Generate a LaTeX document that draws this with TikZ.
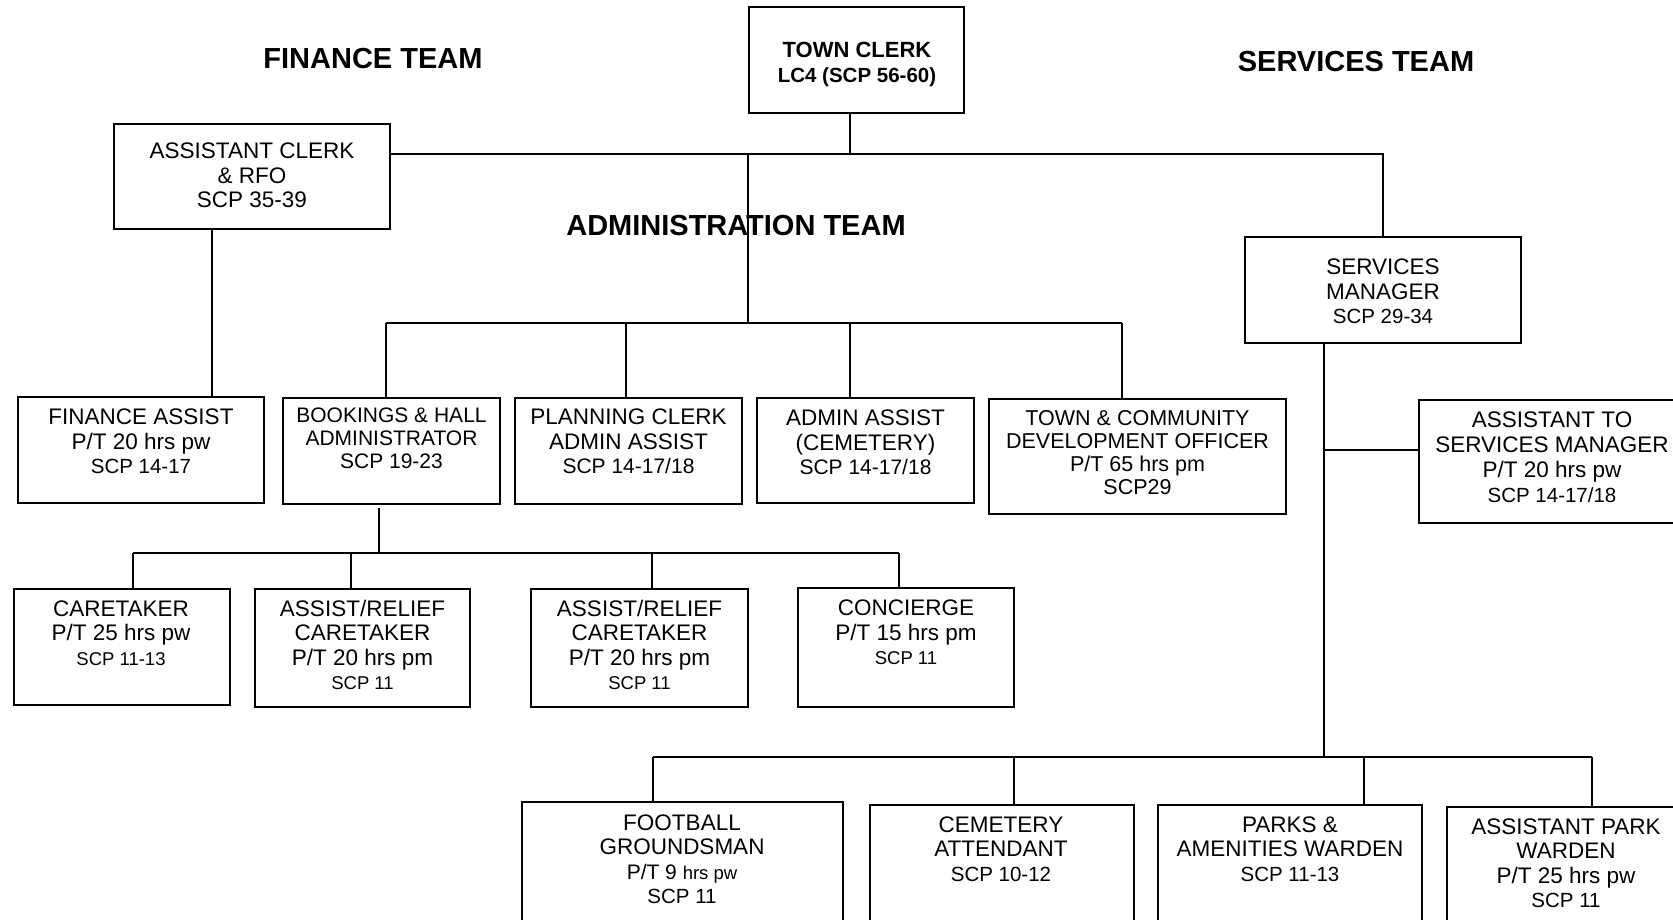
\documentclass[tikz,border=0pt]{standalone}
\usepackage{fontspec}
\setmainfont{Liberation Sans}
\newcommand\fa{\fontsize{22.5}{24.5}\selectfont}
\newcommand\fb{\fontsize{20.5}{24.5}\selectfont}
\newcommand\fc{\fontsize{18.5}{24.5}\selectfont}
\newcommand\fd{\fontsize{21}{23}\selectfont}
\begin{document}
\begin{tikzpicture}[x=1pt,y=-1pt,
  box/.style={draw, line width=2pt, inner sep=0pt},
  txt/.style={align=center, inner sep=0pt, font=\fa},
  team/.style={inner sep=0pt, font=\fontsize{29}{32}\selectfont\bfseries},
  conn/.style={line width=1.3pt}]
\useasboundingbox (0,0) rectangle (1673,920);
\clip (0,0) rectangle (1673,920);

% team labels
\node[team] (ft) at (373,59) {FINANCE TEAM};
\node[team] (st) at (1356,62) {SERVICES TEAM};

% boxes
\node[box, minimum width=215pt, minimum height=106pt] (tc) at (856.5,60) {};
\node[txt, font=\fontsize{22}{25}\selectfont\bfseries] (tct) at (857,64.5) {TOWN CLERK\\{\fontsize{20.5}{25}\selectfont LC4 (SCP 56-60)}};

\node[box, minimum width=276pt, minimum height=105pt] (ac) at (252,176.5) {};
\node[txt] (act) at (252,175.5) {ASSISTANT CLERK\\\& RFO\\SCP 35-39};

\node[box, minimum width=276pt, minimum height=106pt] (sm) at (1383,290) {};
\node[txt] (smt) at (1383,291.5) {SERVICES\\MANAGER\\{\fb SCP 29-34}};

\node[box, minimum width=246pt, minimum height=106pt] (fa) at (141,450) {};
\node[txt] (fat) at (141,441.5) {FINANCE ASSIST\\P/T 20 hrs pw\\{\fb SCP 14-17}};

\node[box, minimum width=217pt, minimum height=106pt] (bk) at (391.5,451) {};
\node[txt, font=\fd] (bkt) at (391.5,438) {BOOKINGS \& HALL\\ADMINISTRATOR\\SCP 19-23};

\node[box, minimum width=227pt, minimum height=106pt] (pc) at (628.5,451) {};
\node[txt] (pct) at (628.5,441.5) {PLANNING CLERK\\ADMIN ASSIST\\{\fd SCP 14-17/18}};

\node[box, minimum width=217pt, minimum height=105pt] (aa) at (865.5,450.5) {};
\node[txt] (aat) at (865.5,442.5) {ADMIN ASSIST\\(CEMETERY)\\{\fd SCP 14-17/18}};

\node[box, minimum width=297pt, minimum height=115pt] (tcd) at (1137.5,456.5) {};
\node[txt, font=\fontsize{21.5}{23}\selectfont] (tcdt) at (1137.5,452.5) {TOWN \& COMMUNITY\\DEVELOPMENT OFFICER\\P/T 65 hrs pm\\SCP29};

\node[box, minimum width=268pt, minimum height=123pt] (asm) at (1553,461.5) {};
\node[txt, font=\fontsize{22.5}{25}\selectfont] (asmt) at (1552,457.5) {ASSISTANT TO\\SERVICES MANAGER\\P/T 20 hrs pw\\{\fb SCP 14-17/18}};

\node[box, minimum width=216pt, minimum height=116pt] (ct) at (122,647) {};
\node[txt] (ctt) at (121,633) {CARETAKER\\P/T 25 hrs pw\\{\fc SCP 11-13}};

\node[box, minimum width=215pt, minimum height=118pt] (ar1) at (362.5,648) {};
\node[txt] (ar1t) at (362.5,645) {ASSIST/RELIEF\\CARETAKER\\P/T 20 hrs pm\\{\fc SCP 11}};

\node[box, minimum width=217pt, minimum height=118pt] (ar2) at (639.5,648) {};
\node[txt] (ar2t) at (639.5,645) {ASSIST/RELIEF\\CARETAKER\\P/T 20 hrs pm\\{\fc SCP 11}};

\node[box, minimum width=216pt, minimum height=119pt] (cc) at (906,647.5) {};
\node[txt] (cct) at (906,632.5) {CONCIERGE\\P/T 15 hrs pm\\{\fc SCP 11}};

\node[box, minimum width=321pt, minimum height=198pt] (fb) at (682.5,901) {};
\node[txt] (fbt) at (682,859) {FOOTBALL\\GROUNDSMAN\\{\fontsize{21}{24.5}\selectfont P/T 9 {\fontsize{18.5}{24.5}\selectfont hrs pw}}\\{\fb SCP 11}};

\node[box, minimum width=264pt, minimum height=195pt] (ce) at (1002,902.5) {};
\node[txt] (cet) at (1001,849) {CEMETERY\\ATTENDANT\\{\fb SCP 10-12}};

\node[box, minimum width=264pt, minimum height=195pt] (pk) at (1290,902.5) {};
\node[txt] (pkt) at (1290,849) {PARKS \&\\AMENITIES WARDEN\\{\fb SCP 11-13}};

\node[box, minimum width=240pt, minimum height=193pt] (apw) at (1567,903.5) {};
\node[txt] (apwt) at (1566,863) {ASSISTANT PARK\\WARDEN\\P/T 25 hrs pw\\{\fb SCP 11}};

\node[team] (at) at (736,226) {ADMINISTRATION TEAM};

% connector coordinates
\coordinate (bus) at (0,154);
\coordinate (tx) at (850,0);
\coordinate (ax) at (748,0);
\coordinate (fx) at (212,0);
\coordinate (a1) at (386,323);
\coordinate (a2) at (626,323);
\coordinate (a3) at (850,323);
\coordinate (a4) at (1122,323);
\coordinate (b0) at (379,508);
\coordinate (c1) at (133,553);
\coordinate (c2) at (351,553);
\coordinate (c3) at (652,553);
\coordinate (c4) at (899,553);
\coordinate (sx) at (1324,0);
\coordinate (sb) at (1324,450);
\coordinate (sv) at (1324,757);
\coordinate (e1) at (653,757);
\coordinate (e2) at (1014,757);
\coordinate (e3) at (1364,757);
\coordinate (e4) at (1592,757);

% connectors
\draw[conn] (ac.east |- bus) -| (sm.north);
\draw[conn] (tc.south -| tx) -- (bus -| tx);
\draw[conn] (bus -| ax) -- (a1 -| ax);
\draw[conn] (a1) -- (a4);
\draw[conn] (a1) -- (a1 |- bk.north);
\draw[conn] (a2) -- (a2 |- pc.north);
\draw[conn] (a3) -- (a3 |- aa.north);
\draw[conn] (a4) -- (a4 |- tcd.north);
\draw[conn] (ac.south -| fx) -- (fa.north -| fx);
\draw[conn] (b0) -- (b0 |- c1);
\draw[conn] (c1) -- (c4);
\draw[conn] (c1) -- (c1 |- ct.north);
\draw[conn] (c2) -- (c2 |- ar1.north);
\draw[conn] (c3) -- (c3 |- ar2.north);
\draw[conn] (c4) -- (c4 |- cc.north);
\draw[conn] (sm.south -| sx) -- (sv);
\draw[conn] (sb) -- (sb -| asm.west);
\draw[conn] (e1) -- (e4);
\draw[conn] (e1) -- (e1 |- fb.north);
\draw[conn] (e2) -- (e2 |- ce.north);
\draw[conn] (e3) -- (e3 |- pk.north);
\draw[conn] (e4) -- (e4 |- apw.north);
\end{tikzpicture}
\end{document}
